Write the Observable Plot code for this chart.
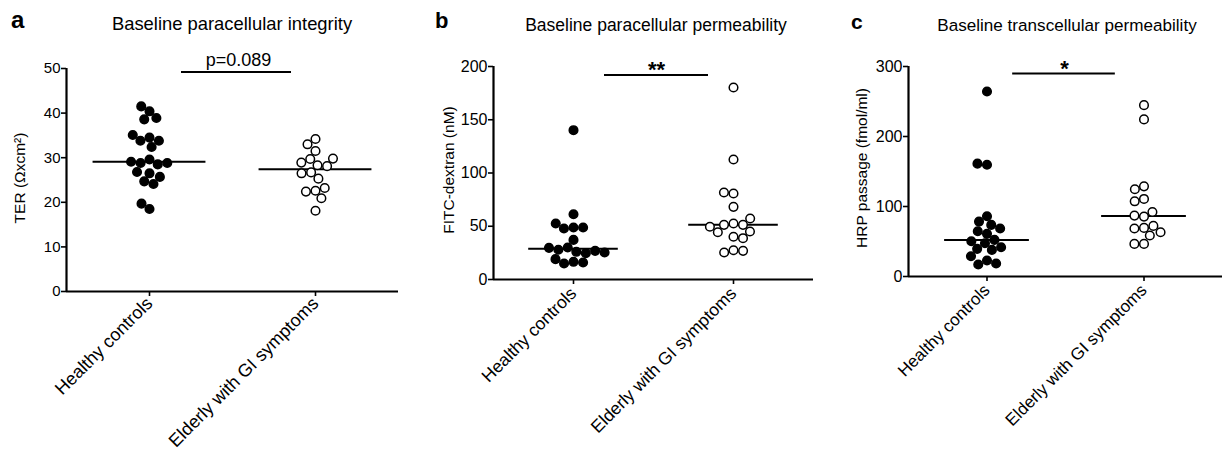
<!DOCTYPE html>
<html><head><meta charset="utf-8">
<script src="https://cdn.jsdelivr.net/npm/d3@7"></script>
<script src="https://cdn.jsdelivr.net/npm/@observablehq/plot@0.6"></script>
<style>
body{margin:0;background:#fff;font-family:"Liberation Sans",Arial,Helvetica,sans-serif;color:#000;}
#root{position:relative;width:1222px;height:454px;overflow:hidden;background:#fff;}
.panel{position:absolute;top:0;}
.panel svg{overflow:visible;}
.letter{position:absolute;font-weight:bold;line-height:1;}
.title{position:absolute;line-height:1;transform:translateX(-50%);white-space:nowrap;}
.ylab{position:absolute;font-size:15.5px;line-height:1;white-space:nowrap;transform:translate(-50%,-50%) rotate(-90deg);}
</style></head><body><div id="root"></div>
<script>
const groups = ["Healthy controls", "Elderly with GI symptoms"];

// Panel a: TER (Ωxcm²)
const terHealthy = [40.4, 38.6, 38.9, 41.5, 34.5, 33.8, 32.4, 33.8, 35.1, 29.6, 28.8, 28.5, 28.8, 29.1, 26.5, 24.7, 24.1, 25.7, 26.8, 18.5, 19.7];
const terElderly = [34.2, 31.5, 33.0, 29.7, 28.3, 28.1, 28.9, 29.8, 26.7, 26.5, 25.3, 22.6, 22.4, 23.2, 20.9, 18.1];
// Panel b: FITC-dextran (nM)
const fitcHealthy = [140.2, 61.3, 48.8, 47.9, 48.8, 52.6, 37.2, 30.0, 26.0, 24.7, 27.9, 26.9, 29.7, 25.4, 16.6, 15.0, 16.0, 19.1];
const fitcElderly = [180.3, 112.7, 80.8, 81.7, 68.2, 52.6, 51.3, 51.3, 57.3, 45.1, 44.4, 49.5, 40.1, 38.8, 27.5, 25.4, 26.9];
// Panel c: HRP passage (fmol/ml)
const hrpHealthy = [264.3, 159.7, 161.2, 86.0, 78.4, 73.7, 68.5, 60.9, 64.7, 52.3, 47.5, 39.5, 38.0, 41.8, 50.4, 22.8, 17.1, 18.5, 29.0];
const hrpElderly = [244.8, 224.4, 128.8, 124.6, 110.8, 107.4, 85.6, 87.0, 92.2, 69.4, 68.5, 72.3, 63.2, 58.5, 46.6, 46.6];

const yTicksA = [0, 10, 20, 30, 40, 50];
const yTicksB = [0, 50, 100, 150, 200];
const yTicksC = [0, 100, 200, 300];

const sigA = {label: "p=0.089", value: 49.2};
const sigB = {label: "**", value: 192};
const sigC = {label: "*", value: 290};

const root = document.getElementById("root");

function panel(cfg) {
  const data = [
    ...cfg.healthy.map(v => ({g: groups[0], v})),
    ...cfg.elderly.map(v => ({g: groups[1], v}))
  ];
  const med = [
    {g: groups[0], m: d3.median(cfg.healthy)},
    {g: groups[1], m: d3.median(cfg.elderly)}
  ];
  const bw = cfg.width - cfg.marginLeft - cfg.marginRight;
  const band = bw / 2;
  const sigRules = [
    {g: groups[0], x1: 1 - cfg.sigL / band, x2: 1},
    {g: groups[1], x1: 0, x2: cfg.sigR / band}
  ];
  const plot = Plot.plot({
    width: cfg.width,
    height: 454,
    marginLeft: cfg.marginLeft,
    marginRight: cfg.marginRight,
    marginTop: cfg.marginTop,
    marginBottom: 454 - cfg.bottom,
    style: {fontFamily: "'Liberation Sans', Arial, Helvetica, sans-serif", background: "transparent", color: "black", overflow: "visible"},
    fx: {domain: groups, padding: 0, label: null},
    x: {domain: [0, 1], axis: null},
    y: {domain: cfg.domain, label: null},
    color: {domain: groups, range: ["black", "white"]},
    marks: [
      Plot.axisY({ticks: cfg.ticks, tickSize: 5, tickPadding: 1, fontSize: cfg.tickFont, strokeWidth: 1.6, label: null}),
      Plot.axisFx({anchor: "bottom", tickRotate: -45, tickSize: 5, tickPadding: cfg.xPad, fontSize: cfg.xFont, strokeWidth: 1.6, label: null}),
      Plot.ruleY([0], {strokeWidth: 2.2}),
      Plot.ruleX([{g: groups[0]}], {fx: "g", x: () => 0, y1: () => cfg.domain[0], y2: () => cfg.domain[1], strokeWidth: 2.2}),
      Plot.ruleY(med, {fx: "g", y: "m", x1: () => cfg.medX1, x2: () => 1 - cfg.medX1, strokeWidth: 2}),
      Plot.ruleY(sigRules, {fx: "g", y: () => cfg.sig.value, x1: "x1", x2: "x2", strokeWidth: 2}),
      Plot.text([{g: groups[0]}], {fx: "g", x: () => 1, y: () => cfg.sig.value, text: () => cfg.sig.label, lineAnchor: "bottom", dy: cfg.sigDy, dx: cfg.sigDx, fontSize: cfg.sigFont, fontWeight: cfg.sigWeight, textAnchor: "middle"}),
      Plot.dot(data, Plot.dodgeX("middle", {fx: "g", y: "v", r: 4.3, padding: 4.4, fill: "g", stroke: "black", strokeWidth: 1.5}))
    ]
  });
  const div = document.createElement("div");
  div.className = "panel";
  div.style.left = cfg.left + "px";
  div.appendChild(plot);
  root.appendChild(div);

  const letter = document.createElement("div");
  letter.className = "letter";
  letter.textContent = cfg.letter;
  letter.style.fontSize = cfg.letterSize + "px";
  letter.style.left = cfg.letterX + "px";
  letter.style.top = (cfg.letterBase - 0.8465 * cfg.letterSize) + "px";
  root.appendChild(letter);

  const title = document.createElement("div");
  title.className = "title";
  title.textContent = cfg.title;
  title.style.fontSize = cfg.titleSize + "px";
  title.style.left = cfg.titleX + "px";
  title.style.top = (cfg.titleBase - 0.8465 * cfg.titleSize) + "px";
  root.appendChild(title);

  const ylab = document.createElement("div");
  ylab.className = "ylab";
  ylab.textContent = cfg.ylabel;
  ylab.style.left = cfg.ylabX + "px";
  ylab.style.top = cfg.ylabY + "px";
  root.appendChild(ylab);
}

panel({
  letter: "a", letterSize: 24, letterX: 11, letterBase: 28,
  title: "Baseline paracellular integrity", titleSize: 18.4, titleX: 232, titleBase: 31,
  ylabel: "TER (Ωxcm²)", ylabX: 20, ylabY: 178,
  left: 0, width: 410, marginLeft: 66, marginRight: 12, marginTop: 68, bottom: 291,
  domain: [0, 50], ticks: yTicksA, tickFont: 15, xFont: 18, xPad: 4,
  healthy: terHealthy, elderly: terElderly, medX1: 0.16,
  sig: sigA, sigL: 51, sigR: 59, sigDy: -6, sigDx: 6, sigFont: 18, sigWeight: "normal"
});
panel({
  letter: "b", letterSize: 22, letterX: 435, letterBase: 29,
  title: "Baseline paracellular permeability", titleSize: 17.5, titleX: 656, titleBase: 31.5,
  ylabel: "FITC-dextran (nM)", ylabX: 449, ylabY: 170,
  left: 410, width: 410, marginLeft: 83, marginRight: 7, marginTop: 66, bottom: 279,
  domain: [0, 200], ticks: yTicksB, tickFont: 16, xFont: 17.5, xPad: 6,
  healthy: fitcHealthy, elderly: fitcElderly, medX1: 0.22,
  sig: sigB, sigL: 49, sigR: 55, sigDy: 2, sigDx: 3, sigFont: 22, sigWeight: "bold"
});
panel({
  letter: "c", letterSize: 21, letterX: 851, letterBase: 29,
  title: "Baseline transcellular permeability", titleSize: 17.1, titleX: 1067, titleBase: 31.5,
  ylabel: "HRP passage (fmol/ml)", ylabX: 862, ylabY: 168,
  left: 815, width: 407, marginLeft: 92, marginRight: 0, marginTop: 66, bottom: 276,
  domain: [0, 300], ticks: yTicksC, tickFont: 16, xFont: 17, xPad: 6,
  healthy: hrpHealthy, elderly: hrpElderly, medX1: 0.23,
  sig: sigC, sigL: 53, sigR: 50, sigDy: 2, sigDx: -1, sigFont: 22, sigWeight: "bold"
});
</script>
</body></html>
